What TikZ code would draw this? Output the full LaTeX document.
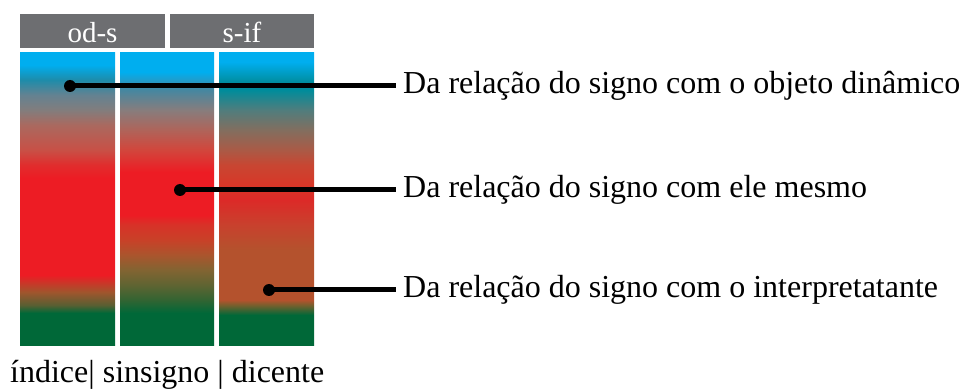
\documentclass[tikz,border=0pt]{standalone}
\usepackage{fontspec}
\setmainfont{Liberation Serif}
\definecolor{cy}{RGB}{0,174,239}
\definecolor{gr}{RGB}{0,104,56}
\definecolor{rd}{RGB}{237,28,36}
\definecolor{hdr}{RGB}{109,110,113}
\definecolor{a1}{RGB}{90,95,50}
\definecolor{a2}{RGB}{160,85,45}
\definecolor{a3}{RGB}{225,45,45}
\definecolor{a4}{RGB}{200,80,70}
\definecolor{a5}{RGB}{170,105,95}
\definecolor{a6}{RGB}{130,125,125}
\definecolor{a7}{RGB}{100,130,145}
\definecolor{a8}{RGB}{30,140,170}
\definecolor{b1}{RGB}{50,100,50}
\definecolor{b2}{RGB}{95,100,50}
\definecolor{b3}{RGB}{130,100,50}
\definecolor{b4}{RGB}{170,85,45}
\definecolor{b5}{RGB}{200,65,40}
\definecolor{b6}{RGB}{215,50,40}
\definecolor{b7}{RGB}{210,70,60}
\definecolor{b8}{RGB}{175,100,90}
\definecolor{b9}{RGB}{135,125,125}
\definecolor{b10}{RGB}{70,135,160}
\definecolor{c1}{RGB}{120,95,45}
\definecolor{c2}{RGB}{180,82,45}
\definecolor{c3}{RGB}{200,65,45}
\definecolor{c4}{RGB}{220,42,40}
\definecolor{c5}{RGB}{215,55,40}
\definecolor{c6}{RGB}{200,70,50}
\definecolor{c7}{RGB}{170,90,70}
\definecolor{c8}{RGB}{130,110,95}
\definecolor{c9}{RGB}{80,125,125}
\definecolor{c10}{RGB}{0,140,155}
\pgfdeclareverticalshading{colA}{100bp}{color(0bp)=(gr); color(30.48bp)=(gr); color(31.85bp)=(a1); color(34.08bp)=(a2); color(36.99bp)=(rd); color(53.6bp)=(rd); color(55.82bp)=(a3); color(58.39bp)=(a4); color(62.67bp)=(a5); color(65.24bp)=(a6); color(67.81bp)=(a7); color(70.38bp)=(a8); color(72.95bp)=(cy); color(100bp)=(cy)}
\pgfdeclareverticalshading{colB}{100bp}{color(0bp)=(gr); color(30.48bp)=(gr); color(32.71bp)=(b1); color(35.27bp)=(b2); color(37.84bp)=(b3); color(40.41bp)=(b4); color(42.98bp)=(b5); color(45.55bp)=(b6); color(47.26bp)=(rd); color(54.62bp)=(rd); color(58.39bp)=(b7); color(61.82bp)=(b8); color(65.24bp)=(b9); color(68.66bp)=(b10); color(71.75bp)=(cy); color(100bp)=(cy)}
\pgfdeclareverticalshading{colC}{100bp}{color(0bp)=(gr); color(30.14bp)=(gr); color(31.85bp)=(c1); color(32.71bp)=(c2); color(41.27bp)=(c2); color(45.55bp)=(c3); color(49.83bp)=(c4); color(52.4bp)=(c5); color(55.82bp)=(c6); color(58.39bp)=(c7); color(61.82bp)=(c8); color(65.24bp)=(c9); color(68.66bp)=(c10); color(69.86bp)=(c10); color(73.46bp)=(cy); color(100bp)=(cy)}
\tikzset{
  hdrbox/.style={fill=hdr,draw=none},
  hdrtext/.style={text=white,inner sep=0pt,anchor=base,font=\fontsize{29}{34}\selectfont},
  dotnode/.style={circle,fill=black,inner sep=0pt,minimum size=12pt},
  conn/.style={line width=5pt},
  lbl/.style={anchor=base west,inner sep=0pt,font=\fontsize{32}{38}\selectfont},
}
\begin{document}
\begin{tikzpicture}[x=1pt,y=-1pt]
\useasboundingbox (0,0) rectangle (967,390);
% headers
\fill[hdrbox] (20,14) rectangle (165,48);
\fill[hdrbox] (170,14) rectangle (314,48);
\node[hdrtext] (h1) at (92.5,43) {od-s};
\node[hdrtext] (h2) at (242,43) {s-if};
% columns
\shade[shading=colA] (20,53) rectangle (115,345);
\shade[shading=colB] (120,53) rectangle (214,345);
\shade[shading=colC] (219,53) rectangle (314,345);
% dots and labels
\node[dotnode] (d1) at (70,86) {};
\node[dotnode] (d2) at (180,190) {};
\node[dotnode] (d3) at (269,290) {};
\coordinate (e1) at (396,86);
\coordinate (e2) at (396,190);
\coordinate (e3) at (396,290);
\draw[conn] (d1.center) -- (e1);
\draw[conn] (d2.center) -- (e2);
\draw[conn] (d3.center) -- (e3);
\node[lbl] (l1) at (403,94) {Da relação do signo com o objeto dinâmico};
\node[lbl] (l2) at (403,198) {Da relação do signo com ele mesmo};
\node[lbl] (l3) at (403,298) {Da relação do signo com o interpretatante};
\node[lbl] (bt) at (10,382) {índice| sinsigno | dicente};
\end{tikzpicture}
\end{document}
